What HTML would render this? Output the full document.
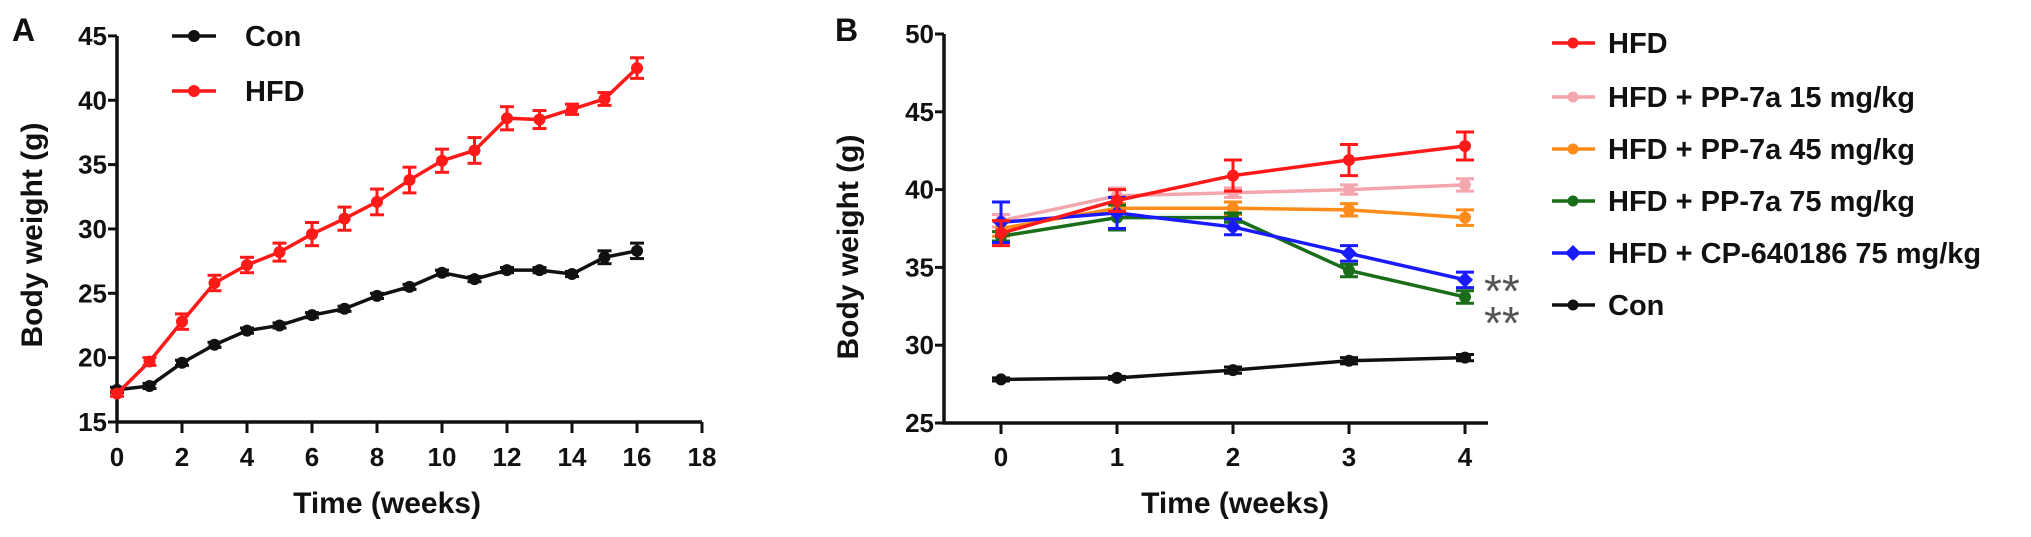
<!DOCTYPE html>
<html><head><meta charset="utf-8"><style>
html,body{margin:0;padding:0;background:#fff}
svg{display:block;font-family:"Liberation Sans",Arial,sans-serif;font-weight:bold}
</style></head><body>
<svg id="fig" width="2031" height="537" viewBox="0 0 2031 537" xmlns="http://www.w3.org/2000/svg"></svg>
<script>
// ---- Panel A data ----
const weeksA = [0,1,2,3,4,5,6,7,8,9,10,11,12,13,14,15,16];
const conA = [17.5,17.8,19.6,21.0,22.1,22.5,23.3,23.8,24.8,25.5,26.6,26.1,26.8,26.8,26.5,27.8,28.3];
const conAerr = [0.2,0.2,0.2,0.2,0.2,0.2,0.2,0.2,0.2,0.2,0.2,0.2,0.2,0.2,0.2,0.5,0.6];
const hfdA = [17.2,19.7,22.8,25.8,27.2,28.2,29.6,30.8,32.1,33.8,35.3,36.1,38.6,38.5,39.3,40.1,42.5];
const hfdAerr = [0.2,0.3,0.6,0.6,0.6,0.7,0.9,0.9,1.0,1.0,0.9,1.0,0.9,0.7,0.4,0.5,0.8];
const xTicksA = [0,2,4,6,8,10,12,14,16,18];
const yTicksA = [15,20,25,30,35,40,45];
// ---- Panel B data ----
const weeksB = [0,1,2,3,4];
const xTicksB = [0,1,2,3,4];
const yTicksB = [25,30,35,40,45,50];
const bNames = ["HFD","HFD + PP-7a 15 mg/kg","HFD + PP-7a 45 mg/kg","HFD + PP-7a 75 mg/kg","HFD + CP-640186 75 mg/kg","Con"];
const bColors = ["#ff1a1a","#f4a6ae","#ff8c1a","#1a6e1a","#1a1aff","#111111"];
const bHFD = [37.2,39.3,40.9,41.9,42.8];
const bPP15 = [38.0,39.6,39.8,40.0,40.3];
const bPP45 = [37.5,38.8,38.8,38.7,38.2];
const bPP75 = [37.0,38.2,38.2,34.8,33.1];
const bCP = [37.9,38.5,37.6,35.9,34.2];
const bCon = [27.8,27.9,28.4,29.0,29.2];
const eHFD = [0.8,0.7,1.0,1.0,0.9];
const ePP15 = [0.4,0.5,0.3,0.3,0.4];
const ePP45 = [0.5,0.3,0.4,0.4,0.5];
const ePP75 = [0.3,0.8,0.3,0.4,0.4];
const eCP = [1.3,1.0,0.5,0.5,0.5];
const eCon = [0.1,0.1,0.2,0.2,0.2];

const NS="http://www.w3.org/2000/svg";
const svg=document.getElementById('fig');
function mk(tag,attrs,parent,text){const e=document.createElementNS(NS,tag);for(const k in attrs)e.setAttribute(k,attrs[k]);if(text!==undefined)e.textContent=text;(parent||svg).appendChild(e);return e;}

const xA=v=>117+v*32.5, yA=v=>422-(v-15)*12.87;
const xB=v=>1001+v*116, yB=v=>423-(v-25)*15.56;

function axes(name,x0,x1,y0,y1,xt,yt,xs,ys){
  const g=mk('g',{});
  
  
  mk('line',{x1:x0,y1:y0,x2:x0,y2:y1,stroke:'#111','stroke-width':3.5},g);
  mk('line',{x1:x0-1.5,y1:y0,x2:x1,y2:y0,stroke:'#111','stroke-width':3.5},g);
  yt.forEach(v=>{mk('line',{x1:x0-9,y1:ys(v),x2:x0,y2:ys(v),stroke:'#111','stroke-width':3},g);
    const t=mk('text',{x:x0-10,y:ys(v)+9,'text-anchor':'end','font-size':26,fill:'#111'},g,String(v));
    });
  xt.forEach(v=>{mk('line',{x1:xs(v),y1:y0,x2:xs(v),y2:y0+11,stroke:'#111','stroke-width':3},g);
    const t=mk('text',{x:xs(v),y:466,'text-anchor':'middle','font-size':26,fill:'#111'},g,String(v));
    });
}
axes('panel-a',117,702,422,36,xTicksA,yTicksA,xA,yA);
axes('panel-b',944,1488,423,34,xTicksB,yTicksB,xB,yB);

function series(name,xs,ys,X,Y,err,color,marker,cap){
  const g=mk('g',{});
  
  
  mk('polyline',{points:xs.map((x,i)=>X(x)+','+Y(ys[i])).join(' '),fill:'none',stroke:color,'stroke-width':3.5},g);
  xs.forEach((x,i)=>{
    const cx=X(x),cy=Y(ys[i]),t=Y(ys[i]+err[i]),b=Y(ys[i]-err[i]);
    mk('line',{x1:cx,y1:t,x2:cx,y2:b,stroke:color,'stroke-width':3},g);
    mk('line',{x1:cx-cap,y1:t,x2:cx+cap,y2:t,stroke:color,'stroke-width':3},g);
    mk('line',{x1:cx-cap,y1:b,x2:cx+cap,y2:b,stroke:color,'stroke-width':3},g);
    let m;
    if(marker==='d') m=mk('polygon',{points:`${cx},${cy-8} ${cx+8},${cy} ${cx},${cy+8} ${cx-8},${cy}`,fill:color},g);
    else m=mk('circle',{cx:cx,cy:cy,r:6,fill:color},g);
    
    
  });
}
series('con-series-a',weeksA,conA,xA,yA,conAerr,'#111','c',7);
series('hfd-series-a',weeksA,hfdA,xA,yA,hfdAerr,'#ff1a1a','c',7);

const bData=[bHFD,bPP15,bPP45,bPP75,bCP,bCon];
const bErr=[eHFD,ePP15,ePP45,ePP75,eCP,eCon];
const bIds=['hfd','pp7a-15','pp7a-45','pp7a-75','cp640186-75','con'];
[5,1,2,3,4,0].forEach(i=>series(bIds[i]+'-series-b',weeksB,bData[i],xB,yB,bErr[i],bColors[i],i===4?'d':'c',9));

function txt(name,attrs,s){const t=mk('text',attrs,svg,s);return t;}
txt('panel-a-label',{x:12,y:41,'font-size':32,fill:'#111'},'A');
txt('panel-b-label',{x:835,y:41,'font-size':32,fill:'#111'},'B');
txt('x-axis-title-a',{x:387,y:513,'text-anchor':'middle','font-size':30,fill:'#111'},'Time (weeks)');
txt('x-axis-title-b',{x:1235,y:513,'text-anchor':'middle','font-size':30,fill:'#111'},'Time (weeks)');
txt('y-axis-title-a',{x:0,y:0,'text-anchor':'middle','font-size':30,fill:'#111',transform:'translate(42,235) rotate(-90)'},'Body weight  (g)');
txt('y-axis-title-b',{x:0,y:0,'text-anchor':'middle','font-size':30,fill:'#111',transform:'translate(858,247) rotate(-90)'},'Body weight  (g)');

const legA=[['Con','#111',36],['HFD','#ff1a1a',91]];
legA.forEach(l=>{const g=mk('g',{});
  mk('line',{x1:172,y1:l[2],x2:216,y2:l[2],stroke:l[1],'stroke-width':3.5},g);
  mk('circle',{cx:194,cy:l[2],r:6,fill:l[1]},g);
  mk('text',{x:245,y:l[2]+10,'font-size':29,fill:'#111'},g,l[0]);});

const legBy=[43,97,149,201,253,305];
bNames.forEach((n,i)=>{const g=mk('g',{});
  const y=legBy[i];
  mk('line',{x1:1552,y1:y,x2:1595,y2:y,stroke:bColors[i],'stroke-width':3.5},g);
  if(i===4) mk('polygon',{points:`1573,${y-8} 1581,${y} 1573,${y+8} 1565,${y}`,fill:bColors[i]},g);
  else mk('circle',{cx:1573,cy:y,r:5.5,fill:bColors[i]},g);
  mk('text',{x:1608,y:y+10,'font-size':29,fill:'#111'},g,n);});

txt('significance-cp',{x:1484,y:307,'font-size':46,fill:'#555','font-weight':'normal'},'**');
txt('significance-pp75',{x:1484,y:339,'font-size':46,fill:'#555','font-weight':'normal'},'**');
</script>
</body></html>
